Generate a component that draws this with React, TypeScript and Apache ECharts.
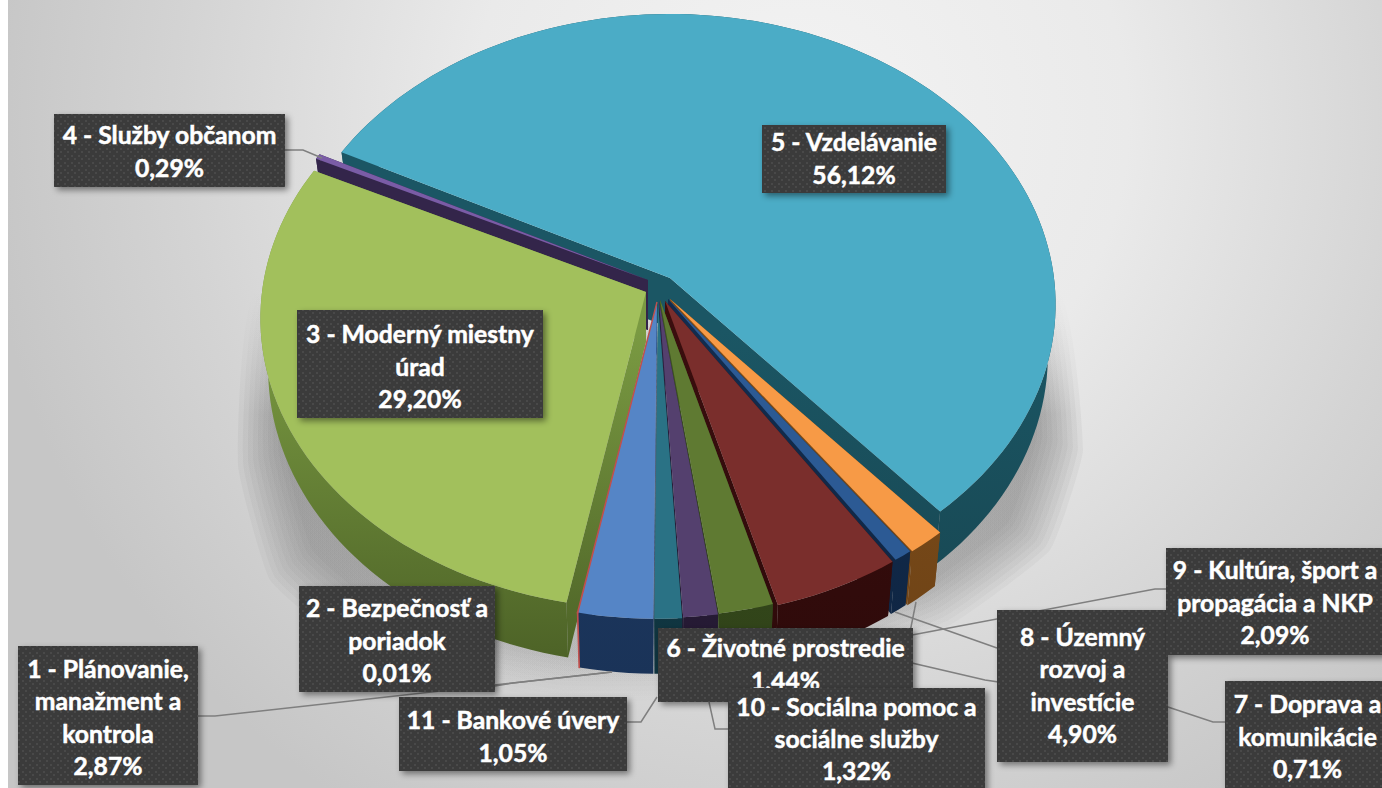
import React, { useEffect, useRef } from "react";
import * as echarts from "echarts";

const categories = [
  "1 - Plánovanie, manažment a kontrola",
  "2 - Bezpečnosť a poriadok",
  "3 - Moderný miestny úrad",
  "4 - Služby občanom",
  "5 - Vzdelávanie",
  "6 - Životné prostredie",
  "7 - Doprava a komunikácie",
  "8 - Územný rozvoj a investície",
  "9 - Kultúra, šport a propagácia a NKP",
  "10 - Sociálna pomoc a sociálne služby",
  "11 - Bankové úvery",
];
const values = [2.87, 0.01, 29.2, 0.29, 56.12, 1.44, 0.71, 4.9, 2.09, 1.32, 1.05];
const percentLabels = ["2,87%", "0,01%", "29,20%", "0,29%", "56,12%", "1,44%", "0,71%", "4,90%", "2,09%", "1,32%", "1,05%"];
const labelLines = [
  ["1 - Plánovanie,", "manažment a", "kontrola"],
  ["2 - Bezpečnosť a", "poriadok"],
  ["3 - Moderný miestny", "úrad"],
  ["4 - Služby občanom"],
  ["5 - Vzdelávanie"],
  ["6 - Životné prostredie"],
  ["7 - Doprava a", "komunikácie"],
  ["8 - Územný", "rozvoj a", "investície"],
  ["9 - Kultúra, šport a", "propagácia a NKP"],
  ["10 - Sociálna pomoc a", "sociálne služby"],
  ["11 - Bankové úvery"],
];
const topColors = ["#5585c6", "#c0504d", "#a2c05c", "#7a5ca6", "#4bacc6", "#f79a46", "#2c5a94", "#7a2e2c", "#5f7a32", "#54406e", "#2a7285"];
const wallTop = ["#1d3a63", "#c0504d", "#7a9a42", "#33254a", "#1b5664", "#7f4e1a", "#122c4e", "#3a0e0e", "#3d5420", "#2c1f3e", "#123f4c"];
const wallBottom = ["#1a3358", "#c0504d", "#4a5f25", "#33254a", "#17444f", "#6d4216", "#0f2542", "#2e0a0a", "#2f4118", "#241932", "#0f333e"];

// screen-space projection of the perspective pie
const CX = 660, CY = 302, RX = 384, RY = 288, K = 0.0909, DEPTH = 50, A0 = 0.5;
const offsets = [[-3, 0], [-3, 0], [-14, -10], [-12, -22], [10, -24], [10, -3], [8, -3], [5, -1], [0, -2], [-1, -1], [-2, 0]];
const drawOrder = [4, 3, 2, 5, 6, 7, 8, 9, 10, 0, 1];

// label boxes: x, y, w, h
const boxes = [
  [18, 646, 180, 139], [299, 586, 196, 106], [297, 310, 246, 108], [54, 114, 231, 73],
  [762, 125, 184, 68], [658, 628, 255, 74], [1225, 681, 165, 107], [997, 610, 171, 152],
  [1166, 548, 218, 107], [728, 688, 257, 110], [399, 697, 228, 74],
];
const textCenterY = [717, 640, 366, 151, 158, 664, 736, 685, 602, 738.5, 736];
const lineHeights = [32.5, 32.5, 32.5, 32.5, 32.5, 32.5, 32.5, 32.5, 32.5, 32, 32.5];
const leaders = [
  [[198, 716], [215, 716], [612, 672]],
  [[495, 686], [513, 683], [612, 672]],
  [[285, 150], [303, 150], [322, 158]],
  [[916, 602], [910, 632]],
  [[1225, 722], [1213, 722], [1168, 707], [985, 680], [912, 663], [895, 650]],
  [[997, 648], [895, 612]],
  [[1167, 589], [1155, 589], [912, 635], [880, 645]],
  [[728, 729], [715, 729], [709, 702]],
  [[627, 722], [641, 722], [657, 697]],
];
const shadowOutline = [[258, 290], [238, 465], [270, 580], [360, 655], [560, 700], [760, 695], [950, 625], [1050, 550], [1083, 450], [1056, 290]];
const shadowScales = [1, 0.988, 0.976, 0.964, 0.952, 0.94, 0.928, 0.916, 0.904, 0.892];

const cum: number[] = [];
values.reduce((s, v, i) => { cum[i] = s; return s + v; }, 0);

function project(deg: number, idx: number, radius = 1) {
  const a = (deg * Math.PI) / 180;
  const u = -Math.sin(a) * radius, v = Math.cos(a) * radius;
  const f = 1 / (1 - K * v);
  const ox = CX + offsets[idx][0], oy = CY + offsets[idx][1];
  return { x: ox + RX * u * f, y: oy + RY * v * f, f, ox };
}
const lower = (p: { x: number; y: number; f: number; ox: number }) =>
  [p.ox + (p.x - p.ox) * 0.98, p.y + DEPTH * p.f];

function renderSlice(_: any, api: any) {
  const idx = api.value(0);
  const val = api.value(1);
  const start = A0 + cum[idx] * 3.6;
  const end = start + val * 3.6;
  const steps = Math.max(2, Math.ceil(val * 2));
  const rim = [];
  for (let i = 0; i <= steps; i++) rim.push(project(start + ((end - start) * i) / steps, idx));
  const apex = project(0, idx, 0);
  const grad = new echarts.graphic.LinearGradient(0, 330, 0, 680, [
    { offset: 0, color: wallTop[idx] },
    { offset: 1, color: wallBottom[idx] },
  ], true);
  const thin = idx === 1;
  const stroke = thin ? topColors[1] : undefined;
  const ss = { fill: thin ? topColors[1] : grad, stroke, lineWidth: thin ? 1.4 : 0 };
  const topPts = [[apex.x, apex.y], ...rim.map((p) => [p.x, p.y])];
  const wallPts = [...rim.map((p) => [p.x, p.y]), ...rim.slice().reverse().map(lower)];
  const e0 = rim[0], e1 = rim[rim.length - 1];
  const radial = (p: any) => [[apex.x, apex.y], [p.x, p.y], lower(p), lower(apex)];
  const children: any[] = [];
  if (!thin) {
    children.push({ type: "polygon", shape: { points: radial(e0) }, style: ss });
    children.push({ type: "polygon", shape: { points: radial(e1) }, style: ss });
  }
  children.push({ type: "polygon", shape: { points: wallPts }, style: ss });
  children.push({ type: "polygon", shape: { points: topPts }, style: { fill: topColors[idx], stroke, lineWidth: thin ? 1.4 : 0 } });
  return { type: "group", children };
}

function dotPattern() {
  const c = document.createElement("canvas");
  c.width = 14; c.height = 14;
  const g = c.getContext("2d")!;
  g.fillStyle = "#3a3a3a"; g.fillRect(0, 0, 14, 14);
  g.fillStyle = "#4a4a4a";
  [[1, 1], [8, 1], [4, 4], [11, 4], [1, 8], [8, 8], [4, 11], [11, 11]].forEach(([x, y]) => g.fillRect(x, y, 2, 2));
  return c;
}

export default function App() {
  const ref = useRef<HTMLDivElement>(null);
  useEffect(() => {
    const chart = echarts.init(ref.current!, undefined, { renderer: "svg" });
    const pattern = { image: dotPattern(), repeat: "repeat" };
    const shadowLayers = shadowScales.map((s, i) => ({
      type: "polygon", z: -9 + i * 0.05,
      shape: { smooth: 0.12, points: shadowOutline.map(([x, y]) => [660 + (x - 660) * s, 300 + (y - 300) * s]) },
      style: {
        fill: new echarts.graphic.LinearGradient(0, 290, 0, 705, [
          { offset: 0, color: "rgba(130,130,130,0.0)" },
          { offset: 0.3, color: "rgba(110,110,110,0.08)" },
          { offset: 0.7, color: "rgba(110,110,110,0.06)" },
          { offset: 1, color: "rgba(120,120,120,0.015)" },
        ], true),
      },
    }));
    chart.setOption({
      animation: false,
      graphic: [
        {
          type: "rect", z: -10, shape: { x: 8, y: 0, width: 1374, height: 788 },
          style: {
            fill: new echarts.graphic.RadialGradient(800, 120, 820, [
              { offset: 0, color: "#f3f3f3" },
              { offset: 0.4, color: "#eaeaea" },
              { offset: 0.75, color: "#d4d4d4" },
              { offset: 1, color: "#c6c6c6" },
            ], true),
          },
        },
        ...shadowLayers,
      ],
      series: [
        {
          type: "custom", coordinateSystem: "none", silent: true, z: 2,
          data: drawOrder.map((i) => ({ name: categories[i], value: [i, values[i]] })),
          renderItem: renderSlice,
        },
        {
          type: "custom", coordinateSystem: "none", silent: true, z: 3,
          data: leaders.map((_, i) => [i]),
          renderItem: (_: any, api: any) => ({
            type: "polyline",
            shape: { points: leaders[api.value(0)] },
            style: { stroke: "#7f7f7f", lineWidth: 1.5, fill: "none" },
          }),
        },
        {
          type: "custom", coordinateSystem: "none", silent: true, z: 4,
          data: categories.map((_, i) => [i]),
          renderItem: (_: any, api: any) => {
            const i = api.value(0);
            const [x, y, w, h] = boxes[i];
            return {
              type: "group",
              children: [
                {
                  type: "rect", shape: { x, y, width: w, height: h },
                  style: { fill: pattern, shadowBlur: 6, shadowOffsetX: 3, shadowOffsetY: 3, shadowColor: "rgba(0,0,0,0.45)" },
                },
                {
                  type: "text", x: x + w / 2, y: textCenterY[i],
                  style: {
                    text: [...labelLines[i], percentLabels[i]].join("\n"),
                    fill: "#ffffff", font: "700 24.7px Lato", lineHeight: lineHeights[i],
                    stroke: "#ffffff", lineWidth: 0.5,
                    align: "center", verticalAlign: "middle",
                  },
                },
              ],
            };
          },
        },
      ],
    });
    return () => chart.dispose();
  }, []);
  return <div ref={ref} style={{ position: "absolute", left: 0, top: 0, width: 1382, height: 788 }} />;
}
